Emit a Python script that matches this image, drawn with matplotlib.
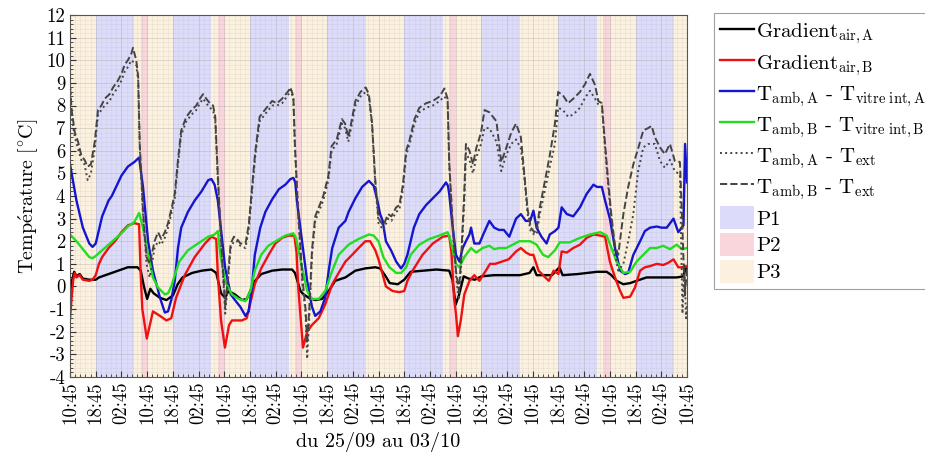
import numpy as np
import matplotlib.pyplot as plt
from matplotlib.patches import Patch
from matplotlib.ticker import AutoMinorLocator

plt.rcParams['font.family'] = ['cmr10', 'DejaVu Serif']
plt.rcParams['mathtext.fontset'] = 'cm'
plt.rcParams['axes.formatter.use_mathtext'] = True
plt.rcParams['axes.unicode_minus'] = False

# hours since 25/09 10:45, value in degC
grad_air_a = [(0, -0.3), (0.5, 0.2), (1.3, 0.65), (2, 0.45), (3, 0.55), (4, 0.35), (6, 0.3), (8, 0.3),
              (9, 0.4), (12, 0.55), (15, 0.7), (18, 0.85), (21, 0.85), (22, 0.7), (23, 0.0), (24, -0.55),
              (25, -0.1), (26, -0.3), (28, -0.5), (30, -0.6), (32, -0.4), (33.5, 0.1), (35, 0.4), (38, 0.6),
              (41, 0.7), (44, 0.75), (45.5, 0.6), (46.5, 0.0), (47, -0.3), (48.3, -0.5), (49.3, -0.2),
              (51.3, -0.35), (53.5, -0.6), (55, -0.55), (56.1, -0.2), (57.6, 0.25), (59.5, 0.55), (62.9, 0.7),
              (66, 0.75), (69.1, 0.75), (70, 0.6), (71.7, -0.2), (72.7, -0.35), (74.3, -0.5), (76.3, -0.6),
              (78.4, -0.55), (80.5, -0.2), (82.5, 0.25), (85.7, 0.4), (88.8, 0.7), (91.9, 0.8), (95, 0.85),
              (96.5, 0.8), (98, 0.5), (99.5, 0.15), (102, 0.1), (104, 0.3), (106, 0.65), (110, 0.7),
              (114, 0.75), (118, 0.7), (119, 0.3), (120, -0.8), (121, -0.4), (122.5, 0.45), (124, 0.35),
              (126, 0.3), (128, 0.45), (132, 0.5), (136, 0.5), (140, 0.5), (143, 0.6), (144.2, 0.85),
              (145.2, 0.5), (150, 0.5), (152.3, 0.85), (153.3, 0.5), (158, 0.55), (164, 0.65), (167, 0.65),
              (168.5, 0.5), (170.1, 0.25), (172.2, 0.1), (174.3, 0.15), (176.3, 0.25), (179.4, 0.4),
              (184.6, 0.4), (188.8, 0.4), (190.9, 0.45), (191.5, 0.85), (192, 0.6)]

grad_air_b = [(0, -1.4), (0.5, -0.5), (1, 0.3), (1.5, 0.6), (2, 0.4), (3, 0.5), (4, 0.3), (6, 0.25), (7, 0.3),
              (8, 0.5), (9, 1.0), (10, 1.3), (12, 1.7), (14, 2.0), (16, 2.4), (18, 2.7), (20, 2.8), (21.5, 2.75),
              (22, 0.5), (22.5, -1.0), (23.9, -2.3), (25.8, -1.1), (28, -1.3), (30, -1.5), (31.5, -1.4),
              (33, -0.5), (35.7, 0.5), (38.8, 1.3), (42, 1.9), (44, 2.2), (45.5, 2.1), (46, 0.5), (47, -1.5),
              (48.2, -2.7), (49.5, -1.7), (50.4, -1.5), (53.5, -1.5), (55, -1.4), (56, -0.8), (57.5, 0.1),
              (59.5, 0.8), (61.8, 1.4), (63.9, 1.9), (66, 2.15), (68, 2.25), (69.8, 2.25), (70.5, 1.5),
              (71, 0.0), (72.5, -2.7), (73.8, -2.0), (75.3, -1.7), (77.4, -1.4), (79.4, -0.8), (81.6, 0.1),
              (83.6, 0.6), (85.7, 1.1), (87.8, 1.4), (89.8, 1.7), (91.9, 2.0), (93.4, 2.0), (95, 1.6),
              (96, 1.2), (98.3, 0.0), (100.4, -0.2), (102.5, -0.25), (104, -0.2), (105, 0.25), (106.6, 0.7),
              (109.7, 1.4), (112.9, 1.9), (116, 2.2), (118, 2.25), (118.7, 1.5), (119.5, -0.5), (120.1, -1.2),
              (120.7, -2.2), (121.6, -1.5), (122.7, -0.35), (124.3, 0.25), (125.8, 0.5), (127.4, 0.25),
              (129.4, 0.7), (130.7, 1.0), (132.3, 1.0), (134.4, 1.1), (136.5, 1.2), (138.8, 1.55),
              (140.3, 1.7), (141.9, 1.5), (143.2, 1.4), (144.2, 1.4), (145.8, 0.7), (147.9, 0.4), (149, 0.25),
              (150.5, 0.7), (152, 0.55), (153, 1.55), (154.6, 1.5), (156.6, 1.7), (158.7, 1.85), (160.8, 2.15),
              (162.9, 2.3), (165, 2.25), (166.5, 2.2), (168, 1.1), (169.6, 0.4), (171.2, -0.2), (172.2, -0.5),
              (174.3, -0.45), (175.8, -0.05), (177.4, 0.7), (178.9, 0.85), (180.5, 0.9), (182.6, 1.0),
              (184.6, 0.95), (186.2, 1.05), (187.8, 1.2), (189.3, 0.85), (190.9, 0.85), (192, 0.9)]

amb_vitre_a = [(0, 5.4), (1, 4.6), (2, 3.8), (4, 2.6), (6, 1.9), (7, 1.75), (8, 1.9), (9, 2.5), (10, 3.1),
               (12, 3.8), (13, 4.0), (14, 4.3), (16, 4.9), (18, 5.3), (20, 5.5), (21.5, 5.7), (22.7, 4.4),
               (24.3, 2.0), (25.8, 0.7), (28, -0.5), (29.5, -1.15), (30.5, -1.1), (31.5, -0.6), (32.6, 0.25),
               (33.6, 1.7), (34.6, 2.6), (36.7, 3.3), (38.8, 3.8), (40.9, 4.2), (43, 4.7), (44, 4.75),
               (45, 4.5), (46, 3.8), (47, 2.5), (48.3, 0.8), (50, -0.35), (51.6, -0.65), (53, -0.9),
               (54.6, -1.3), (55.6, -1.1), (56.6, -0.05), (57.5, 1.4), (59.2, 2.6), (60.8, 3.3), (62.9, 3.85),
               (65, 4.3), (67, 4.5), (68.6, 4.75), (69.5, 4.8), (70.1, 4.6), (70.6, 3.8), (72.2, 2.0),
               (73.8, 0.24), (75.3, -0.9), (76.3, -1.3), (77.9, -1.1), (79.4, -0.5), (80.5, 0.7), (81.6, 1.7),
               (83.6, 2.6), (85.7, 2.9), (86.7, 3.3), (88.8, 3.9), (90.9, 4.4), (93, 4.67), (94.5, 4.45),
               (95.5, 3.9), (96.5, 3.2), (97.3, 2.9), (98.3, 2.0), (99.9, 1.6), (101.5, 1.1), (103, 0.8),
               (104, 1.0), (105, 1.4), (106, 2.0), (107, 2.6), (108.7, 3.2), (110.8, 3.6), (112.9, 3.9),
               (115, 4.2), (116, 4.4), (117, 4.6), (117.6, 4.45), (118, 4.1), (119.1, 2.6), (120.1, 1.4),
               (121.2, 1.1), (122.2, 1.7), (123.2, 2.0), (124.3, 2.3), (124.8, 2.6), (125.8, 1.9),
               (127.4, 1.9), (128.9, 2.4), (130.5, 2.9), (132, 2.6), (133.5, 2.5), (135, 2.5), (136.7, 2.2),
               (138.8, 3.0), (140.3, 3.2), (141.8, 2.9), (143.2, 2.9), (144.2, 3.35), (145.2, 2.6),
               (146.7, 2.2), (148.3, 1.9), (149.3, 2.3), (150.9, 2.45), (152, 2.6), (153, 3.5), (154.6, 3.2),
               (156.6, 3.1), (158.7, 3.5), (160.8, 4.1), (162.9, 4.5), (164, 4.4), (165.5, 4.4), (166.5, 3.8),
               (168, 3.0), (169.6, 1.7), (171.2, 0.7), (172.7, 0.55), (173.7, 0.6), (175.3, 1.4), (177.4, 2.0),
               (178.9, 2.45), (180.5, 2.6), (182.6, 2.65), (184.1, 2.6), (185.7, 2.6), (187.8, 3.0),
               (189.3, 2.4), (190.9, 2.7), (191.4, 6.3), (192, 4.6)]

amb_vitre_b = [(0, 2.3), (2, 2.0), (4, 1.65), (6, 1.3), (7, 1.25), (8, 1.35), (10, 1.6), (12, 1.85), (14, 2.1),
               (16, 2.35), (18, 2.65), (20, 2.85), (21.5, 3.25), (22.7, 2.6), (24.3, 1.4), (25.8, 0.4),
               (27.4, -0.05), (29.5, -0.35), (30.5, -0.3), (31.5, 0.0), (32.6, 0.5), (34, 1.1), (36.7, 1.6),
               (39.8, 1.9), (43, 2.2), (45, 2.3), (46, 2.45), (46.7, 1.5), (48.3, 0.2), (50.4, -0.35),
               (52.5, -0.55), (54.6, -0.65), (56.1, -0.2), (57.5, 0.7), (59.5, 1.4), (61.7, 1.8), (64, 2.0),
               (67, 2.25), (69.5, 2.35), (70.3, 2.15), (72.2, 0.85), (73.8, -0.2), (75.3, -0.55), (77.4, -0.55),
               (79.4, -0.2), (81.6, 0.7), (83.6, 1.4), (86.7, 1.85), (89.8, 2.1), (93, 2.3), (94.5, 2.25),
               (96, 2.0), (97.5, 1.3), (99.4, 0.85), (101.5, 0.6), (103, 0.6), (104.6, 0.85), (106, 1.4),
               (108.7, 1.85), (111.8, 2.1), (114.9, 2.25), (117.5, 2.4), (118.5, 2.0), (120.1, 1.0),
               (121.2, 0.85), (122.7, 1.3), (124.8, 1.7), (126.4, 1.5), (128.4, 1.7), (130.5, 1.8), (132, 1.65),
               (133.6, 1.7), (135.7, 1.7), (137.8, 1.85), (139.8, 2.0), (141.8, 2.0), (143.2, 2.0),
               (145.2, 1.85), (147.2, 1.4), (148.8, 1.3), (150.9, 1.6), (152.4, 1.95), (155.5, 1.95),
               (158.7, 2.15), (161.8, 2.3), (165, 2.4), (167, 2.25), (168.5, 1.7), (170.1, 1.1), (172.2, 0.6),
               (174.3, 0.65), (176.3, 1.1), (178.4, 1.4), (180.5, 1.7), (182.6, 1.7), (184.6, 1.8),
               (186.7, 1.65), (188.8, 1.85), (190.4, 1.65), (192, 1.7)]

amb_ext_a = [(0, 9.0), (0.5, 7.5), (1.5, 6.6), (2.5, 6.1), (3.5, 5.6), (4.5, 5.4), (5.5, 4.7), (6.5, 5.0),
             (7.7, 6.1), (8.7, 7.6), (9.75, 7.8), (10.8, 8.0), (12.3, 8.2), (13.4, 8.5), (14.9, 8.8), (16, 9.1),
             (17, 9.5), (18, 9.7), (19.1, 10.0), (20.6, 9.8), (21.2, 9.1), (21.7, 6.1), (22.7, 3.2), (23.8, 1.0),
             (24.8, 0.4), (26.3, 1.7), (27.4, 2.0), (28.4, 1.85), (29.5, 2.15), (30.5, 2.6), (31.5, 3.2),
             (32.6, 3.9), (33.6, 5.4), (34.6, 6.7), (36.2, 7.3), (37.8, 7.6), (39.3, 7.8), (40.4, 8.1),
             (41.4, 8.3), (42.4, 8.1), (43.5, 7.9), (44.5, 7.8), (45.2, 7.3), (46, 4.7), (47.1, 1.7),
             (48.3, -1.2), (50, 1.7), (51, 2.0), (52, 2.0), (53, 1.8), (54.6, 1.7), (55.6, 2.5), (56.6, 4.1),
             (57.6, 5.7), (59, 7.3), (60.6, 7.6), (62.9, 8.0), (64.4, 8.0), (66, 8.1), (68, 8.5), (68.6, 8.7),
             (69.5, 8.3), (70, 6.1), (71, 3.2), (72.3, 0.2), (73.3, -1.2), (73.8, -3.2), (74.5, -1.2),
             (75.3, 1.4), (76.3, 2.9), (78.8, 3.8), (80.4, 4.7), (81.4, 6.0), (83, 6.3), (84.6, 7.2),
             (85.6, 7.0), (86.6, 6.4), (87.6, 7.1), (88.8, 8.0), (90.4, 8.4), (92, 8.6), (93, 8.4), (94, 7.1),
             (95, 4.5), (96, 2.8), (97.5, 2.5), (99, 3.0), (100, 2.9), (101.5, 3.3), (102.5, 3.4), (103.6, 4.3),
             (104.6, 5.8), (105.7, 6.3), (107.2, 7.2), (108.7, 7.7), (110.8, 7.9), (112.9, 8.0), (115, 8.2),
             (116.5, 8.4), (117.5, 8.2), (118, 5.4), (119.1, 2.5), (120.1, 0.5), (121, -0.6), (121.7, 0.9),
             (122.7, 3.8), (123.2, 5.9), (124.3, 5.6), (125.4, 5.0), (126.4, 5.7), (127.9, 6.3), (129, 7.0),
             (130.5, 7.0), (132.7, 6.4), (134.2, 5.1), (135.7, 5.8), (137.3, 6.3), (138.8, 6.5), (140.3, 6.1),
             (141.3, 4.95), (142.4, 3.2), (143.4, 2.4), (144.5, 2.3), (145.2, 2.3), (146.2, 3.2), (147.7, 4.2),
             (149.3, 5.3), (150.9, 6.3), (151.9, 7.9), (153.4, 7.8), (155, 7.5), (156.6, 7.6), (158.7, 7.9),
             (160.3, 8.35), (161.8, 8.65), (163.4, 8.3), (164.4, 8.05), (165.5, 8.0), (166.5, 6.1),
             (167.5, 4.4), (168.5, 2.9), (169.6, 1.4), (170.6, 0.7), (172.2, 1.0), (173.7, 2.0), (175.3, 3.2),
             (176.8, 5.1), (178.4, 6.15), (179.9, 6.3), (182, 6.3), (183.6, 5.55), (185.1, 5.25), (186.7, 5.6),
             (188.2, 5.1), (189.8, 4.95), (190.6, -1.2), (191.2, 1.0), (191.7, -1.4), (192, -0.8)]

amb_ext_b = [(0, 8.8), (0.5, 7.8), (1.5, 6.8), (2.5, 6.4), (3.5, 5.8), (4.5, 5.6), (5.5, 5.3), (6.5, 5.4),
             (7.7, 6.4), (8.7, 7.8), (9.75, 8.0), (10.8, 8.3), (12.3, 8.5), (13.4, 8.8), (14.9, 9.1), (16, 9.4),
             (17, 9.8), (18, 10.0), (19.1, 10.3), (19.6, 10.55), (20.6, 10.0), (21.2, 9.3), (21.7, 6.3),
             (22.7, 3.4), (23.8, 1.3), (24.8, 1.0), (26.3, 2.0), (27.4, 2.4), (28.4, 2.1), (29.5, 2.4),
             (30.5, 2.8), (31.5, 3.4), (32.6, 4.1), (33.6, 5.6), (34.6, 6.9), (36.2, 7.5), (37.8, 7.8),
             (39.3, 8.0), (40.4, 8.3), (41.4, 8.5), (42.4, 8.3), (43.5, 8.1), (44.5, 8.0), (45.2, 7.5),
             (46, 4.9), (47.1, 1.9), (48.3, -0.9), (50, 1.9), (51, 2.2), (52, 2.1), (53, 1.9), (54.6, 1.9),
             (55.6, 2.7), (56.6, 4.3), (57.6, 5.9), (59, 7.5), (60.6, 7.8), (62.9, 8.2), (64.4, 8.1), (66, 8.3),
             (68, 8.65), (68.6, 8.8), (69.5, 8.4), (70, 6.2), (71, 3.3), (72.3, 0.4), (73.3, -1.0), (73.8, -2.5),
             (74.5, -0.9), (75.3, 1.6), (76.3, 3.1), (78.8, 4.0), (80.4, 4.9), (81.4, 6.2), (83, 6.5),
             (84.6, 7.4), (85.6, 7.2), (86.6, 6.6), (87.6, 7.3), (88.8, 8.2), (90.4, 8.6), (92, 8.8), (93, 8.5),
             (94, 7.2), (95, 4.7), (96, 3.0), (97.5, 2.7), (99, 3.2), (100, 3.1), (101.5, 3.5), (102.5, 3.6),
             (103.6, 4.5), (104.6, 6.0), (105.7, 6.5), (107.2, 7.4), (108.7, 7.9), (110.8, 8.1), (112.9, 8.2),
             (115, 8.4), (116.5, 8.75), (117.5, 8.3), (118, 5.5), (119.1, 2.7), (120.1, 0.7), (121, -0.2),
             (121.7, 1.2), (122.7, 4.2), (123.2, 6.3), (124.3, 6.0), (125.4, 5.4), (126.4, 6.1), (127.9, 6.8),
             (129, 7.8), (130.5, 7.7), (132.7, 7.3), (134.2, 5.5), (135.7, 6.1), (137.3, 6.8), (138.8, 7.2),
             (140.3, 6.6), (141.3, 5.1), (142.4, 3.4), (143.4, 2.6), (144.5, 2.4), (145.2, 2.5), (146.2, 3.5),
             (147.7, 4.6), (149.3, 5.8), (150.9, 7.2), (151.9, 8.6), (153.4, 8.45), (155, 8.1), (156.6, 8.3),
             (158.7, 8.6), (160.3, 8.95), (161.8, 9.4), (163.4, 8.9), (164.4, 8.2), (165.5, 8.1), (166.5, 6.3),
             (167.5, 4.6), (168.5, 3.1), (169.6, 1.8), (170.6, 1.4), (172.2, 3.2), (173.7, 4.4), (175.3, 5.4),
             (176.8, 6.1), (178.4, 6.9), (179.9, 7.0), (181, 7.1), (182, 6.6), (183.6, 6.15), (185.1, 5.85),
             (186.7, 6.3), (188.2, 5.55), (189.8, 5.5), (190.6, 2.5), (191.3, -0.4), (192, 0.8)]

# periods (hours since start)
p1_spans = [(8, 20), (32, 44), (56, 68), (80, 92), (104, 116), (128, 140), (152, 164), (176, 188)]
p2_spans = [(22, 24.25), (46, 48.25), (70, 72.25), (118, 120.25), (166, 168.25)]
t_end = 192

xtick_labels = ['10:45', '18:45', '02:45'] * 8 + ['10:45']

c_p1, c_p2, c_p3 = '#dcdcfa', '#f9d6dc', '#fbf1de'

fig = plt.figure(figsize=(9.25, 4.72), dpi=100)
ax = fig.add_axes([0.0757, 0.2013, 0.667, 0.7669])

ax.axvspan(0, t_end, color=c_p3, lw=0, zorder=0)
for a, b in p1_spans:
    ax.axvspan(a, b, color=c_p1, lw=0, zorder=0.5)
for a, b in p2_spans:
    ax.axvspan(a, b, color=c_p2, lw=0, zorder=0.5)

series = [
    (grad_air_a, 'black', '-', r'Gradient$_{\mathrm{air,A}}$'),
    (grad_air_b, '#ee1111', '-', r'Gradient$_{\mathrm{air,B}}$'),
    (amb_vitre_a, '#1515d0', '-', r'T$_{\mathrm{amb,A}}$ - T$_{\mathrm{vitre\ int,A}}$'),
    (amb_vitre_b, '#22dd22', '-', r'T$_{\mathrm{amb,B}}$ - T$_{\mathrm{vitre\ int,B}}$'),
    (amb_ext_a, '#444444', ':', r'T$_{\mathrm{amb,A}}$ - T$_{\mathrm{ext}}$'),
    (amb_ext_b, '#444444', '--', r'T$_{\mathrm{amb,B}}$ - T$_{\mathrm{ext}}$'),
]
handles = []
for pts, col, ls, lab in series:
    t, v = np.array(pts).T
    lw = 1.7 if ls == '-' else 1.4
    h, = ax.plot(t, v, color=col, ls=ls, lw=lw, label=lab, zorder=2)
    handles.append(h)

handles += [Patch(facecolor=c_p1, edgecolor='none', label='P1'),
            Patch(facecolor=c_p2, edgecolor='none', label='P2'),
            Patch(facecolor=c_p3, edgecolor='none', label='P3')]

ax.set_xlim(0, t_end)
ax.set_ylim(-4, 12)
ax.set_xticks(np.arange(0, t_end + 1, 8))
ax.set_xticklabels(xtick_labels, rotation=90)
ax.set_yticks(np.arange(-4, 13, 1))
ax.set_yticklabels([str(v) for v in range(-4, 13)])
ax.xaxis.set_minor_locator(AutoMinorLocator(5))
ax.yaxis.set_minor_locator(AutoMinorLocator(5))
ax.tick_params(which='both', direction='in', labelsize=13.5, colors='#333333')
ax.tick_params(which='major', length=4)
ax.tick_params(which='minor', length=2)
ax.tick_params(axis='x', pad=3)
ax.grid(which='major', color='#9a9a9a', lw=0.5, alpha=0.45)
ax.grid(which='minor', color='#b0b0b0', lw=0.4, alpha=0.25)
for s in ax.spines.values():
    s.set_color('#555555')
    s.set_linewidth(0.8)
for lab in ax.get_xticklabels() + ax.get_yticklabels():
    lab.set_color('black')

ax.set_ylabel(r'Temp$\mathrm{\acute{e}}$rature [$^{\circ}$C]', fontsize=14.5, labelpad=4)
ax.set_xlabel('du 25/09 au 03/10', fontsize=14.5, labelpad=6)

leg = fig.legend(handles=handles, loc='upper left', bbox_to_anchor=(0.772, 0.972),
                 fontsize=15, frameon=True, fancybox=False, edgecolor='#888888',
                 handlelength=1.6, handletextpad=0.12, labelspacing=0.2,
                 borderpad=0.3, borderaxespad=0, handleheight=1.3)
leg.get_frame().set_linewidth(0.8)

fig.savefig('out.png', dpi=100)
